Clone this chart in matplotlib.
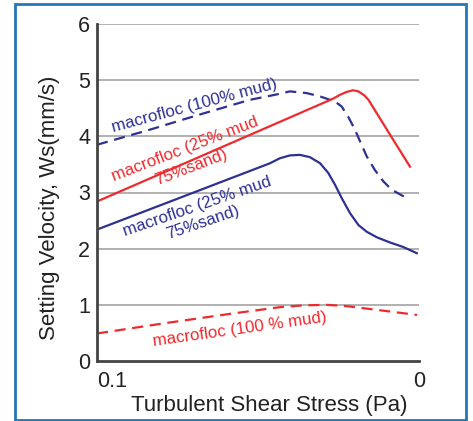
import matplotlib
matplotlib.use("Agg")
import matplotlib.pyplot as plt
from matplotlib.patches import Rectangle

plt.rcParams['font.family'] = ['Liberation Sans', 'DejaVu Sans']

NAVY = '#2e3192'
RED = '#ee2a2e'

# x is the fraction of the axis width (left = 0.1 Pa, right = 0 Pa)
mud100_x = [0.0, 0.165, 0.32, 0.475, 0.553, 0.599, 0.651, 0.693, 0.739, 0.760, 0.780,
            0.801, 0.817, 0.838, 0.863, 0.889, 0.915, 0.962]
mud100_y = [3.85, 4.12, 4.39, 4.65, 4.74, 4.80, 4.77, 4.71, 4.62, 4.53, 4.35,
            4.12, 3.91, 3.64, 3.40, 3.20, 3.05, 2.90]

mix_red_x = [0.0, 0.733, 0.755, 0.775, 0.795, 0.812, 0.830, 0.843, 0.910, 0.972]
mix_red_y = [2.84, 4.67, 4.74, 4.79, 4.82, 4.80, 4.73, 4.65, 4.03, 3.46]

mix_blue_x = [0.0, 0.537, 0.568, 0.599, 0.630, 0.661, 0.693, 0.718, 0.739, 0.760,
              0.786, 0.812, 0.838, 0.870, 0.910, 0.951, 0.993]
mix_blue_y = [2.34, 3.52, 3.61, 3.66, 3.67, 3.63, 3.52, 3.35, 3.14, 2.90,
              2.63, 2.42, 2.30, 2.20, 2.11, 2.03, 1.92]

floc_red_x = [0.0, 0.207, 0.414, 0.570, 0.640, 0.714, 0.770, 0.828, 0.994]
floc_red_y = [0.49, 0.67, 0.84, 0.96, 0.99, 1.0, 0.98, 0.94, 0.82]

y_ticks = [0, 1, 2, 3, 4, 5, 6]
x_ticks = [0.0, 1.0]
x_tick_labels = ['0.1', '0']

fig = plt.figure(figsize=(4.73, 4.21), dpi=100)
ax = fig.add_axes([97 / 473, 1 - 361 / 421, 322 / 473, 337 / 421])

for yv in y_ticks[1:]:
    ax.axhline(yv, color='#aaaaaa', lw=1.3, zorder=0)

dash = (0, (5, 3))
ax.plot(mud100_x, mud100_y, color=NAVY, lw=1.6, linestyle=dash)
ax.plot(mix_red_x, mix_red_y, color=RED, lw=1.6)
ax.plot(mix_blue_x, mix_blue_y, color=NAVY, lw=1.6)
ax.plot(floc_red_x, floc_red_y, color=RED, lw=1.6, linestyle=dash)

ax.set_xlim(0, 1)
ax.set_ylim(0, 6)
ax.set_yticks(y_ticks)
ax.set_xticks(x_ticks)
ax.set_xticklabels(x_tick_labels)
ax.xaxis.get_majorticklabels()[0].set_horizontalalignment('left')
ax.tick_params(length=0, labelsize=15.5, colors='#222222', pad=5)
ax.tick_params(axis='x', pad=7)

for s in ['top', 'right']:
    ax.spines[s].set_visible(False)
for s in ['left', 'bottom']:
    ax.spines[s].set_color('#444444')
    ax.spines[s].set_linewidth(2)

ax.set_xlabel('Turbulent Shear Stress (Pa)', fontsize=16, color='#222222')
ax.set_ylabel('Setting Velocity, Ws(mm/s)', fontsize=16, color='#222222')
ax.xaxis.set_label_coords(0.535, -0.10)
ax.yaxis.set_label_coords(-0.115, 0.455)

# curve labels
ax.text(0.304, 4.55, 'macrofloc (100% mud)', color=NAVY, fontsize=12.2,
        rotation=15, ha='center', va='center')
ax.text(0.283, 3.61, 'macrofloc (25% mud\n75%sand)', color=RED, fontsize=12.2,
        rotation=21, ha='center', va='center', linespacing=1.3)
ax.text(0.32, 2.60, 'macrofloc (25% mud\n75%sand)', color=NAVY, fontsize=12.2,
        rotation=19, ha='center', va='center', linespacing=1.15)
ax.text(0.444, 0.57, 'macrofloc (100 % mud)', color=RED, fontsize=12.2,
        rotation=8, ha='center', va='center')

fig.patches.append(Rectangle((15 / 473, 1 / 421), 451 / 473, 416 / 421,
                             transform=fig.transFigure, fill=False,
                             edgecolor='#2277b5', lw=2))

fig.savefig('out.png', dpi=100)
